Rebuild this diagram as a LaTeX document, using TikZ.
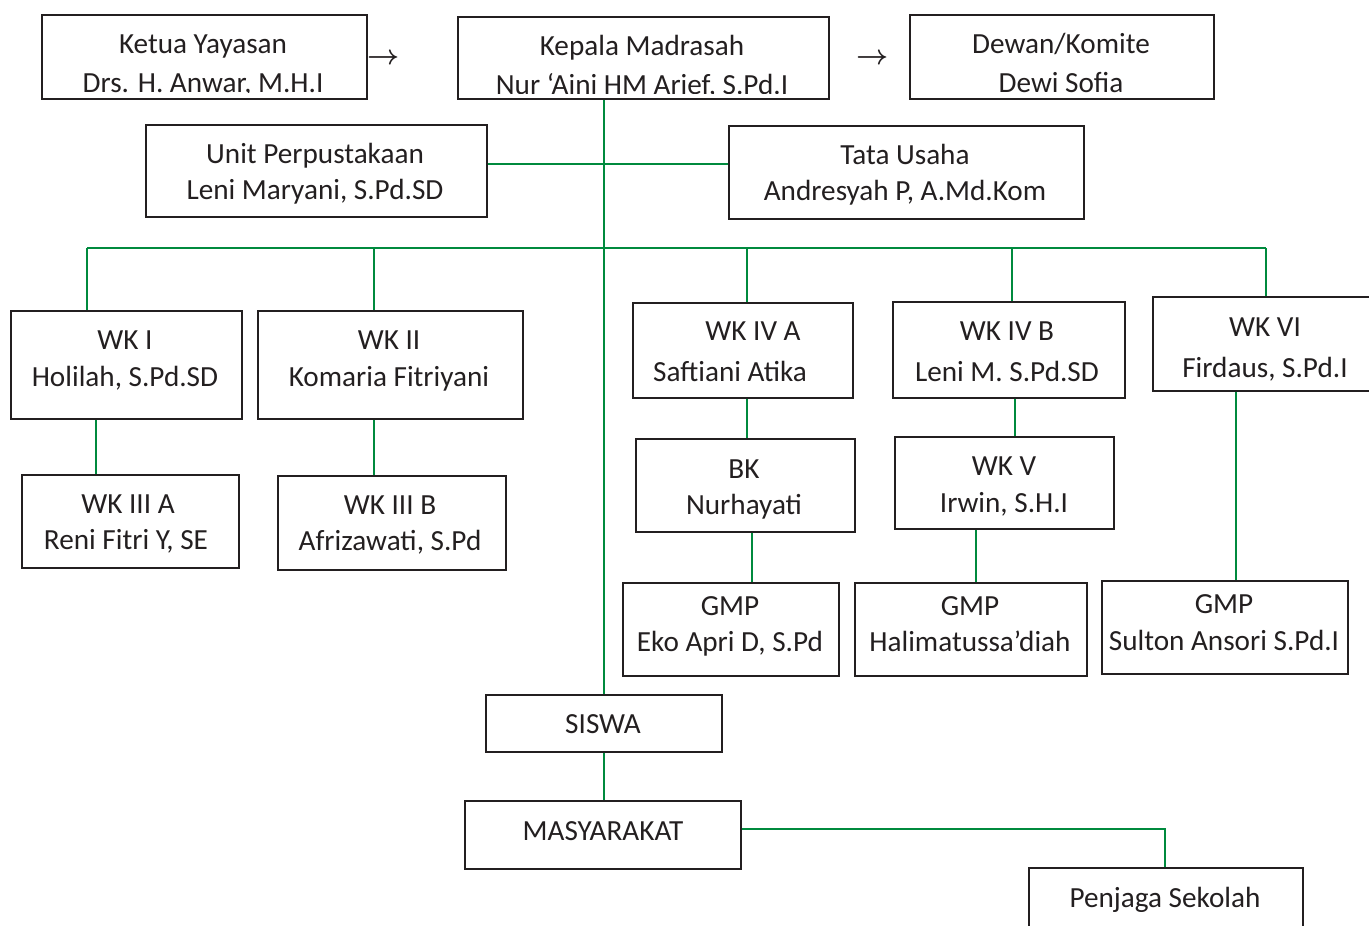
\documentclass[tikz,border=0pt]{standalone}
\usepackage{fontspec}
\usepackage{graphicx}
\setmainfont{Carlito}
\definecolor{lgreen}{RGB}{0,138,62}
\definecolor{ink}{RGB}{35,31,32}
\tikzset{
  box/.style={draw=ink, line width=1.6pt, rectangle, inner sep=0pt},
  conn/.style={draw=lgreen, line width=1.6pt},
  txt/.style={font=\fontsize{29.2}{35}\selectfont, text=ink, inner sep=0pt, anchor=base},
  arrowtxt/.style={text=ink, inner sep=0pt, anchor=center},
}
\newcommand\mybox[5]{\node[box, anchor=north west, minimum width={(#4-#2)*1pt}, minimum height={(#5-#3)*1pt}] (#1) at (#2,#3) {};}
\newcommand\mytext[4]{\node[txt] (#1) at (#2,#3) {#4};}
\begin{document}
\begin{tikzpicture}[x=1pt,y=-1pt]
\useasboundingbox (0,0) rectangle (1369,926);
\clip (0,0) rectangle (1369,926);
% boxes
\mybox{ketua}{41}{14}{366}{98}
\mybox{kepala}{457}{16}{828}{98}
\mybox{dewan}{909}{14}{1213}{98}
\mybox{unit}{145}{124}{486}{216}
\mybox{tata}{728}{125}{1083}{218}
\mybox{wk1}{10}{310}{241}{418}
\mybox{wk2}{257}{310}{522}{418}
\mybox{wk3a}{21}{474}{238}{567}
\mybox{wk3b}{277}{475}{505}{569}
\mybox{wk4a}{632}{302}{852}{397}
\mybox{bk}{635}{438}{854}{531}
\mybox{gmp1}{622}{582}{838}{675}
\mybox{wk4b}{892}{301}{1124}{397}
\mybox{wk5}{894}{436}{1113}{528}
\mybox{gmp2}{854}{582}{1086}{675}
\mybox{wk6}{1152}{296}{1385}{390}
\mybox{gmp3}{1101}{580}{1347}{673}
\mybox{siswa}{485}{694}{721}{751}
\mybox{masy}{464}{800}{740}{868}
\mybox{penjaga}{1028}{867}{1302}{940}
% clipped top texts
\begin{scope}
\clip (41,14) rectangle (366,92.5);
\mytext{ketua1}{203}{53}{Ketua Yayasan}
\mytext{ketua2}{203}{92}{Drs. H. Anwar, M.H.I}
\end{scope}
\begin{scope}
\clip (457,16) rectangle (828,93);
\mytext{kep1}{642}{55}{Kepala Madrasah}
\mytext{kep2}{642}{94}{Nur ‘Aini HM Arief, S.Pd.I}
\end{scope}
\begin{scope}
\clip (909,14) rectangle (1213,92.5);
\mytext{dew1}{1061}{53}{Dewan/Komite}
\mytext{dew2}{1061}{92}{Dewi Sofia}
\end{scope}
\node[arrowtxt] (arr1) at (384,59) {\scalebox{2.8}{\boldmath$\rightarrow$}};
\node[arrowtxt] (arr2) at (873,59) {\scalebox{2.8}{\boldmath$\rightarrow$}};
% texts
\mytext{unit1}{315}{163}{Unit Perpustakaan}
\mytext{unit2}{315}{199}{Leni Maryani, S.Pd.SD}
\mytext{tata1}{905}{164}{Tata Usaha}
\mytext{tata2}{905}{200}{Andresyah P, A.Md.Kom}
\mytext{wk1a}{125}{349}{WK I}
\mytext{wk1b}{125}{386}{Holilah, S.Pd.SD}
\mytext{wk2a}{389}{349}{WK II}
\mytext{wk2b}{389}{386}{Komaria Fitriyani}
\mytext{wk3aa}{128}{513}{WK III A}
\mytext{wk3ab}{126}{549}{Reni Fitri Y, SE}
\mytext{wk3ba}{390}{514}{WK III B}
\mytext{wk3bb}{390}{550}{Afrizawati, S.Pd}
\mytext{wk4aa}{753}{340}{WK IV A}
\mytext{wk4ab}{730}{381}{Saftiani Atika}
\mytext{bka}{744}{478}{BK}
\mytext{bkb}{744}{514}{Nurhayati}
\mytext{gmp1a}{730}{615}{GMP}
\mytext{gmp1b}{730}{651}{Eko Apri D, S.Pd}
\mytext{wk4ba}{1007}{340}{WK IV B}
\mytext{wk4bb}{1007}{381}{Leni M. S.Pd.SD}
\mytext{wk5a}{1004}{475}{WK V}
\mytext{wk5b}{1004}{512}{Irwin, S.H.I}
\mytext{gmp2a}{970}{615}{GMP}
\mytext{gmp2b}{970}{651}{Halimatussa’diah}
\mytext{wk6a}{1265}{336}{WK VI}
\mytext{wk6b}{1265}{377}{Firdaus, S.Pd.I}
\mytext{gmp3a}{1224}{613}{GMP}
\mytext{gmp3b}{1224}{650}{Sulton Ansori S.Pd.I}
\mytext{siswat}{603}{733}{SISWA}
\mytext{masyt}{603}{840}{MASYARAKAT}
\mytext{penjagat}{1165}{907}{Penjaga Sekolah}
% connectors
\coordinate (uj) at (603,164);
\coordinate (d1) at (87,248);
\coordinate (d2) at (374,248);
\coordinate (d4a) at (747,248);
\coordinate (d4b) at (1012,248);
\coordinate (d6) at (1266,248);
\draw[conn] (kepala.south -| siswa.north) -- (siswa.north);
\draw[conn] (unit.east |- uj) -- (tata.west |- uj);
\draw[conn] (d1) -- (d6);
\draw[conn] (d1) -- (d1 |- wk1.north);
\draw[conn] (d2) -- (d2 |- wk2.north);
\draw[conn] (d4a) -- (d4a |- wk4a.north);
\draw[conn] (d4b) -- (d4b |- wk4b.north);
\draw[conn] (d6) -- (d6 |- wk6.north);
\draw[conn] (wk1.south -| 96,0) -- (wk3a.north -| 96,0);
\draw[conn] (wk2.south -| 374,0) -- (wk3b.north -| 374,0);
\draw[conn] (wk4a.south -| 747,0) -- (bk.north -| 747,0);
\draw[conn] (bk.south -| 752,0) -- (gmp1.north -| 752,0);
\draw[conn] (wk4b.south -| 1015,0) -- (wk5.north -| 1015,0);
\draw[conn] (wk5.south -| 976,0) -- (gmp2.north -| 976,0);
\draw[conn] (wk6.south -| 1236,0) -- (gmp3.north -| 1236,0);
\draw[conn] (siswa.south) -- (siswa.south |- masy.north);
\draw[conn] (masy.east |- 0,829) -| (penjaga.north -| 1165,0);
\end{tikzpicture}
\end{document}
